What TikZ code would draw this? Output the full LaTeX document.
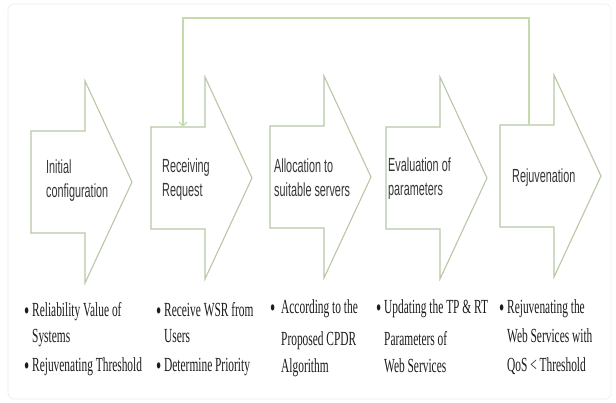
\documentclass[tikz,border=0pt]{standalone}
\usepackage{fontspec}
\usetikzlibrary{arrows.meta}
\newfontfamily\stagefont{Liberation Sans}[FakeStretch=0.57]
\newfontfamily\notefont{Liberation Serif}[FakeStretch=0.57]
\definecolor{stageline}{RGB}{184,200,166}
\definecolor{loopline}{RGB}{196,220,172}
\definecolor{stagetext}{RGB}{55,55,55}
\definecolor{notetext}{RGB}{28,28,28}
\definecolor{framegray}{RGB}{240,240,240}

% block arrow: #1 name, #2 left x, #3 centre y
\newcommand\stagearrow[3]{%
  \draw[stageshape] (#2,#3-51) -- (#2+54,#3-51) -- (#2+54,#3-101) -- (#2+101,#3)
    -- (#2+54,#3+101) -- (#2+54,#3+51) -- (#2,#3+51) -- cycle;
}
% bullet mark in a box of the given width
\newcommand\bulw[1]{\makebox[#1][l]{\raisebox{-2.5pt}{\scalebox{1.3}{•}}}}
\newcommand\bul{\bulw{8pt}}

\begin{document}
\begin{tikzpicture}[x=1pt,y=-1pt,
  stageshape/.style={draw=stageline,line width=1.1pt,fill=white,line join=miter},
  looparrow/.style={draw=loopline,line width=2.4pt,
    -{Straight Barb[length=4pt,width=8pt,line width=1.4pt]}},
  stagelabel/.style={anchor=west,inner sep=0pt,align=left,text=stagetext,
    font=\stagefont\fontsize{19}{24}\selectfont},
  note/.style={anchor=base west,inner sep=0pt,text=notetext,
    font=\notefont\fontsize{20}{28}\selectfont}]
\useasboundingbox (0,0) rectangle (616,403);
\fill[white] (0,0) rectangle (616,403);
\draw[framegray,line width=0.8pt,rounded corners=6pt] (8,4) rectangle (611,399);

% stages
\stagearrow{s1}{31}{182}
\stagearrow{s2}{151}{178}
\stagearrow{s3}{270}{177}
\stagearrow{s4}{386}{178}
\stagearrow{s5}{500}{176}

% feedback from rejuvenation back to receiving
\coordinate (s5-fb) at (529,125);
\coordinate (s2-fb) at (183,127);
\coordinate (fbtop) at (0,18);
\draw[looparrow] (s5-fb) |- (fbtop -| s2-fb) -- (s2-fb);

% stage labels
\node[stagelabel] (l1) at (46,181) {Initial\\configuration};
\node[stagelabel] (l2) at (162,180) {Receiving\\Request};
\node[stagelabel] (l3) at (274,178) {Allocation to\\suitable servers};
\node[stagelabel] (l4) at (388,179) {Evaluation of\\parameters};
\node[stagelabel] (l5) at (512,178) {Rejuvenation};

% notes under each stage
\node[note] (n1a) at (24,317) {\bul Reliability Value of};
\node[note] (n1b) at (32,343) {Systems};
\node[note] (n1c) at (24,372) {\bul Rejuvenating Threshold};

\node[note] (n2a) at (156,317) {\bul Receive WSR from};
\node[note] (n2b) at (164,343) {Users};
\node[note] (n2c) at (156,372) {\bul Determine Priority};

\node[note] (n3a) at (270,314) {\bulw{11pt}According to the};
\node[note] (n3b) at (281,345) {Proposed CPDR};
\node[note] (n3c) at (281,373) {Algorithm};

\node[note] (n4a) at (376,314) {\bul Updating the TP \& RT};
\node[note] (n4b) at (384,345) {Parameters of};
\node[note] (n4c) at (384,373) {Web Services};

\node[note] (n5a) at (499,314) {\bul Rejuvenating the};
\node[note] (n5b) at (507,343) {Web Services with};
\node[note] (n5c) at (507,372) {QoS < Threshold};
\end{tikzpicture}
\end{document}
